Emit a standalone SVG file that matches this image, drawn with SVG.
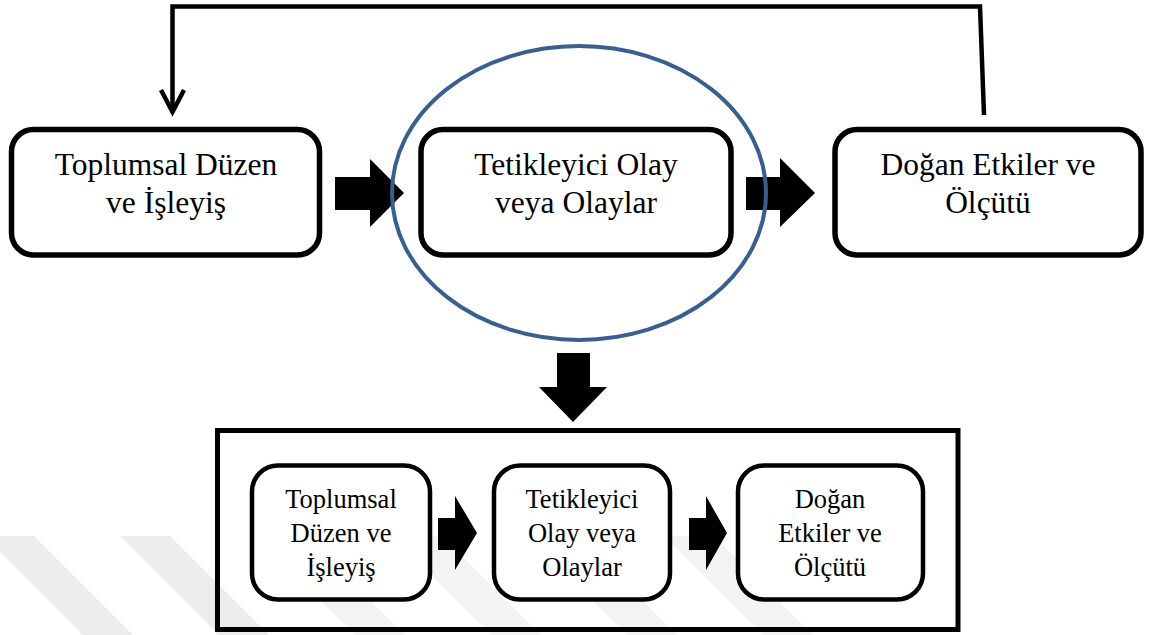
<svg xmlns="http://www.w3.org/2000/svg" width="1155" height="635" viewBox="0 0 1155 635">
<style>
.bigbox{fill:#fff;stroke:#000;stroke-width:5.5}
.smallbox{fill:#fff;stroke:#000;stroke-width:4.5}
.big{font-family:"Liberation Serif","Times New Roman",serif;font-size:31.5px;fill:#000;text-anchor:middle}
.small{font-family:"Liberation Serif","Times New Roman",serif;font-size:26.5px;fill:#000;text-anchor:middle}
.line{fill:none;stroke:#000;stroke-width:4.5}
.block{fill:#000}
.stripe{fill:#ececec}
.stripe2{fill:#f3f3f3}
</style>
<rect width="1155" height="635" fill="#fff"/>
<g id="watermark">
<polygon class="stripe" points="-16,536 34,536 133,635 83,635"/>
<polygon class="stripe" points="120,536 170,536 269,635 219,635"/>
<polygon class="stripe2" points="256,536 306,536 405,635 355,635"/>
<polygon class="stripe2" points="392,536 442,536 541,635 491,635"/>
<polygon class="stripe2" points="528,536 578,536 677,635 627,635"/>
<polygon class="stripe2" points="664,536 714,536 813,635 763,635"/>
</g>
<g id="frame">
<rect x="217.5" y="430.5" width="740.5" height="199" fill="none" stroke="#000" stroke-width="5"/>
</g>
<g id="connectors">
<polyline class="line" points="984,115 980,6.5 172.5,6.5 172.5,111"/>
<polyline class="line" points="161,90 172.5,112 184,90"/>
<polygon class="block" points="335,177 370,177 370,159 404,193 370,227 370,210 335,210"/>
<polygon class="block" points="746,177 780,177 780,158 815,193 780,227 780,210 746,210"/>
<polygon class="block" points="557,353 590,353 590,387 607,387 573,422 539,387 557,387"/>
<polygon class="block" points="438,518 455,518 455,496 477,533 455,570 455,550 438,550"/>
<polygon class="block" points="689,518 706,518 706,496 727,533 706,570 706,550 689,550"/>
</g>
<g id="node-toplumsal">
<rect class="bigbox" x="11.5" y="129.5" width="308" height="125.5" rx="22"/>
<text class="big" x="166" y="175">Toplumsal Düzen</text>
<text class="big" x="166" y="213">ve İşleyiş</text>
</g>
<g id="node-tetikleyici">
<rect class="bigbox" x="421" y="129.5" width="310" height="125.5" rx="22"/>
<text class="big" x="576" y="175">Tetikleyici Olay</text>
<text class="big" x="576" y="213">veya Olaylar</text>
</g>
<g id="node-dogan">
<rect class="bigbox" x="835" y="129.5" width="306" height="125.5" rx="22"/>
<text class="big" x="988" y="175">Doğan Etkiler ve</text>
<text class="big" x="988" y="213">Ölçütü</text>
</g>
<g id="highlight-ellipse">
<ellipse cx="579" cy="193" rx="187" ry="147" fill="none" stroke="#395f8f" stroke-width="4"/>
</g>
<g id="node-small-toplumsal">
<rect class="smallbox" x="252" y="465.5" width="178" height="134" rx="26"/>
<text class="small" x="341" y="508">Toplumsal</text>
<text class="small" x="341" y="542">Düzen ve</text>
<text class="small" x="341" y="576">İşleyiş</text>
</g>
<g id="node-small-tetikleyici">
<rect class="smallbox" x="494" y="465.5" width="176" height="134" rx="26"/>
<text class="small" x="582" y="508">Tetikleyici</text>
<text class="small" x="582" y="542">Olay veya</text>
<text class="small" x="582" y="576">Olaylar</text>
</g>
<g id="node-small-dogan">
<rect class="smallbox" x="738" y="465.5" width="185" height="134" rx="26"/>
<text class="small" x="830" y="508">Doğan</text>
<text class="small" x="830" y="542">Etkiler ve</text>
<text class="small" x="830" y="576">Ölçütü</text>
</g>
</svg>
